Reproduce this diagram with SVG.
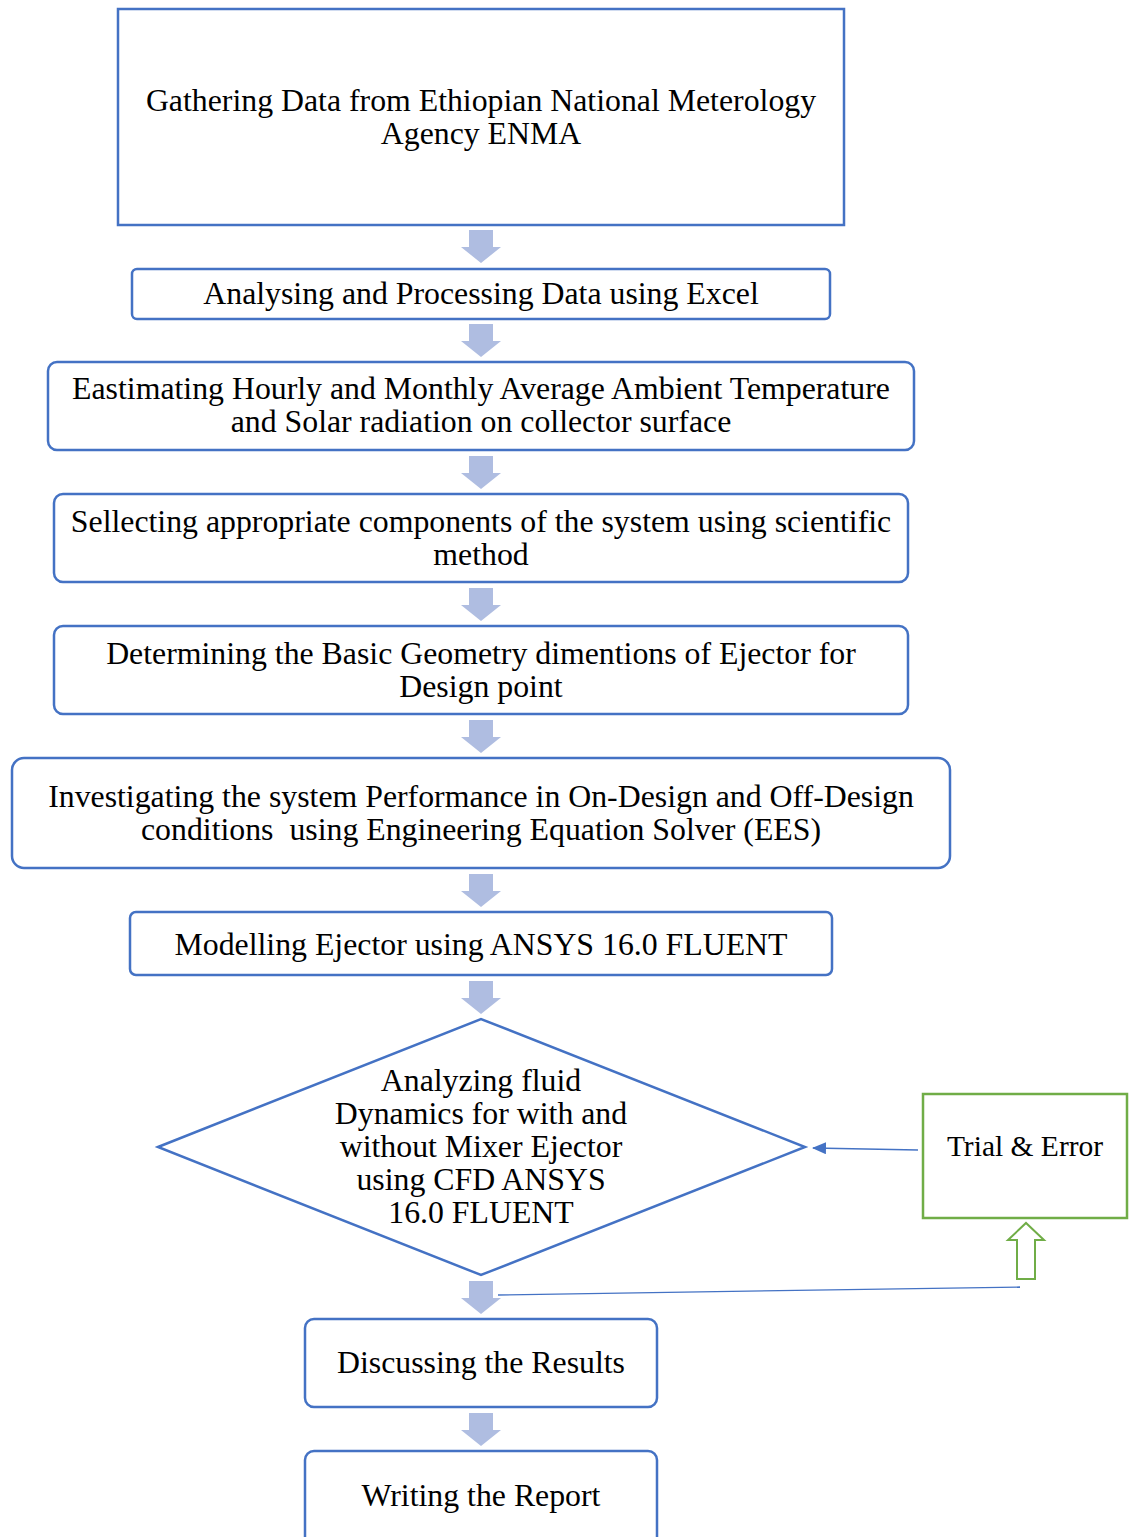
<svg xmlns="http://www.w3.org/2000/svg" width="1134" height="1537" viewBox="0 0 1134 1537">
<defs>
<style>
.box{fill:#fff;stroke:#4472C4;stroke-width:2.5}
.t{font-family:"Liberation Serif","Times New Roman",serif;font-size:31.8px;fill:#000;text-anchor:middle}
.blk{fill:#AFBDE1}
.ln{stroke:#4472C4;stroke-width:1.3;fill:none}
</style>
<path id="ba" class="blk" d="M-12,0 H12 V17 H20 L0,33 L-20,17 H-12 Z"/>
<marker id="ah" markerWidth="14" markerHeight="12" refX="13" refY="6" orient="auto" markerUnits="userSpaceOnUse"><path d="M0,0 L14,6 L0,12 Z" fill="#4472C4"/></marker>
</defs>
<rect width="1134" height="1537" fill="#fff"/>
<g id="n1"><rect class="box" x="118" y="9" width="726" height="216"/><text class="t" x="481" y="111">Gathering Data from Ethiopian National Meterology</text><text class="t" x="481" y="144">Agency ENMA</text></g>
<g id="n2"><rect class="box" x="132" y="269" width="698" height="50" rx="5"/><text class="t" x="481" y="304">Analysing and Processing Data using Excel</text></g>
<g id="n3"><rect class="box" x="48" y="362" width="866" height="88" rx="9"/><text class="t" x="481" y="399">Eastimating Hourly and Monthly Average Ambient Temperature</text><text class="t" x="481" y="432">and Solar radiation on collector surface</text></g>
<g id="n4"><rect class="box" x="54" y="494" width="854" height="88" rx="9"/><text class="t" x="481" y="532">Sellecting appropriate components of the system using scientific</text><text class="t" x="481" y="565">method</text></g>
<g id="n5"><rect class="box" x="54" y="626" width="854" height="88" rx="9"/><text class="t" x="481" y="664">Determining the Basic Geometry dimentions of Ejector for</text><text class="t" x="481" y="697">Design point</text></g>
<g id="n6"><rect class="box" x="12" y="758" width="938" height="110" rx="12"/><text class="t" x="481" y="807">Investigating the system Performance in On-Design and Off-Design</text><text class="t" x="481" y="840" xml:space="preserve">conditions  using Engineering Equation Solver (EES)</text></g>
<g id="n7"><rect class="box" x="130" y="912" width="702" height="63" rx="6"/><text class="t" x="481" y="955">Modelling Ejector using ANSYS 16.0 FLUENT</text></g>
<g id="n8"><polygon class="box" points="158,1147 481,1019 805,1147 481,1275"/><text class="t" x="481" y="1091">Analyzing fluid</text><text class="t" x="481" y="1124">Dynamics for with and</text><text class="t" x="481" y="1157">without Mixer Ejector</text><text class="t" x="481" y="1190">using CFD ANSYS</text><text class="t" x="481" y="1223">16.0 FLUENT</text></g>
<g id="n9"><rect x="923" y="1094" width="204" height="124" fill="#fff" stroke="#70AD47" stroke-width="2.5"/><text class="t" x="1025" y="1156" style="font-size:29.5px">Trial &amp; Error</text></g>
<g id="n10"><rect class="box" x="305" y="1319" width="352" height="88" rx="9"/><text class="t" x="481" y="1373">Discussing the Results</text></g>
<g id="n11"><rect class="box" x="305" y="1451" width="352" height="100" rx="9"/><text class="t" x="481" y="1506">Writing the Report</text></g>
<g id="connectors">
<use href="#ba" x="481" y="230"/>
<use href="#ba" x="481" y="324"/>
<use href="#ba" x="481" y="456"/>
<use href="#ba" x="481" y="588"/>
<use href="#ba" x="481" y="720"/>
<use href="#ba" x="481" y="874"/>
<use href="#ba" x="481" y="981"/>
<use href="#ba" x="481" y="1281"/>
<use href="#ba" x="481" y="1413"/>
<line class="ln" x1="498" y1="1295" x2="1020" y2="1287"/>
<polygon points="1017,1279 1035,1279 1035,1240 1044,1240 1026,1223 1008,1240 1017,1240" fill="#fff" stroke="#70AD47" stroke-width="2"/>
<line class="ln" x1="918" y1="1150" x2="813" y2="1148" marker-end="url(#ah)"/>
</g>
</svg>
